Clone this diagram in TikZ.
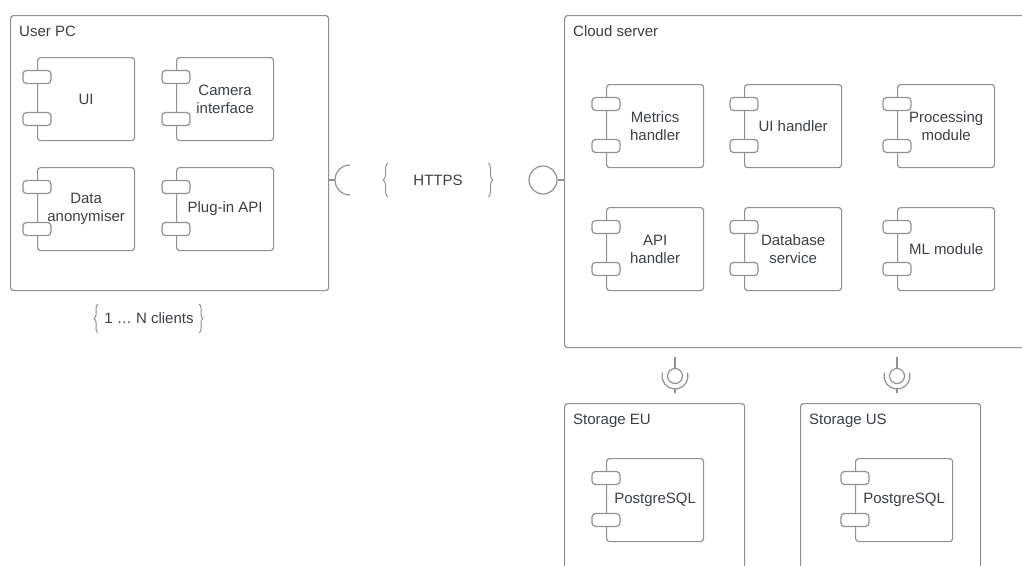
\documentclass[tikz,border=0pt]{standalone}
\usepackage{fontspec}
\setmainfont{Liberation Sans}
\usetikzlibrary{decorations.pathreplacing}
\definecolor{lc}{HTML}{8E9196}
\definecolor{tc}{HTML}{3A3F46}
\tikzset{
  line/.style={draw=lc, line width=1.2pt},
  container/.style={line, rounded corners=3pt, anchor=north west, inner sep=0pt},
  compbox/.style={line, rounded corners=3pt, minimum width=97pt, minimum height=83pt,
    anchor=north west, align=center, inner sep=0pt, text=tc},
  port/.style={line, fill=white, rounded corners=3.5pt, minimum width=28pt,
    minimum height=13pt, inner sep=0pt},
  title/.style={anchor=base west, text=tc, inner sep=0pt},
  label/.style={text=tc, inner sep=0pt},
  bracestyle/.style={line, line width=1pt, decorate, decoration={brace, amplitude=5pt}},
  ball/.style={line, circle, inner sep=0pt},
}
\newcommand\mycomp[4]{%
  \node[compbox] (#1) at (#2,#3) {#4};
  \node[port] (#1-a) at ([yshift=-20pt]#1.north west) {};
  \node[port] (#1-b) at ([yshift=-62pt]#1.north west) {};
}
\begin{document}
\begin{tikzpicture}[x=1pt,y=-1pt,font=\fontsize{15}{18}\selectfont]
\useasboundingbox (0,0) rectangle (1022,565);

% User PC
\node[container, minimum width=318pt, minimum height=275pt] (userpc) at (10,15) {};
\node[title] (userpct) at (19,36) {User PC};
\mycomp{ui}{37}{57}{UI}
\mycomp{cam}{176}{57}{Camera\\interface}
\mycomp{anon}{37}{167}{Data\\anonymiser}
\mycomp{plug}{176}{167}{Plug-in API}

% clients
\node[label] (clients) at (149,318) {1 \dots\ N clients};
\draw[bracestyle, decoration={amplitude=4pt}] (98,333) -- (98,304);
\draw[bracestyle, decoration={amplitude=4pt}] (199,304) -- (199,333);

% Cloud server
\node[container, minimum width=480pt, minimum height=332pt] (cloud) at (564,15) {};
\node[title] (cloudt) at (573,36) {Cloud server};
\mycomp{metrics}{606}{84}{Metrics\\handler}
\mycomp{uih}{744}{84}{UI handler}
\mycomp{proc}{897}{84}{Processing\\module}
\mycomp{api}{606}{207}{API\\handler}
\mycomp{db}{744}{207}{Database\\service}
\mycomp{ml}{897}{207}{ML module}

% HTTPS interface
\coordinate (sockC) at (350,180);
\coordinate (sockL) at (335,180);
\draw[line] (userpc.east |- sockL) -- (sockL);
\draw[line] (sockC) ++(90:15) arc[start angle=90, end angle=270, radius=15];
\node[label] (https) at (438,180) {HTTPS};
\draw[bracestyle] (388,197) -- (388,163);
\draw[bracestyle] (488,163) -- (488,197);
\node[ball, minimum size=28pt] (lolli) at (543,180) {};
\draw[line] (lolli.east) -- (lolli.east -| cloud.west);

% Storage
\node[container, minimum width=180pt, minimum height=200pt] (steu) at (564,403) {};
\node[title] (steut) at (573,424) {Storage EU};
\mycomp{pgeu}{606}{458}{PostgreSQL}
\node[container, minimum width=180pt, minimum height=200pt] (stus) at (800,403) {};
\node[title] (stust) at (809,424) {Storage US};
\mycomp{pgus}{855}{458}{PostgreSQL}

% storage interfaces
\foreach \n/\x in {ifeu/675, ifus/897}{
  \node[ball, minimum size=15pt] (\n) at (\x,376) {};
  \coordinate (\n-top) at (\x,357);
  \coordinate (\n-bot) at (\x,393);
  \draw[line] (\n-top) -- (\n.north);
  \draw[line] (\n) ++(-15:13) arc[start angle=-15, end angle=195, radius=13];
  \draw[line] (\x,389) -- (\n-bot);
}
\end{tikzpicture}
\end{document}
